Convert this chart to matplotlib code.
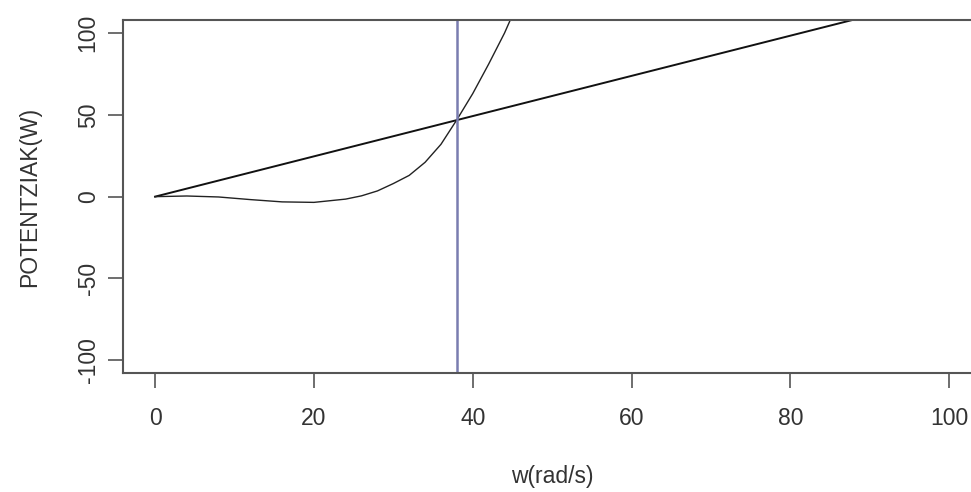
import matplotlib
matplotlib.use("Agg")
import matplotlib.pyplot as plt

plt.rcParams['font.family'] = ['Liberation Sans', 'DejaVu Sans']

# lerro zuzena (karga-potentzia)
line_w = [0, 38, 100]
line_p = [0, 46.8, 123]

# kurba (turbinaren potentzia)
curve_w = [0, 4, 8, 12, 16, 20, 24, 26, 28, 30, 32, 34, 36, 38, 40, 42, 44, 46]
curve_p = [0, 0.4, -0.2, -1.8, -3.2, -3.5, -1.5, 0.5, 3.5, 8, 13, 21, 32, 47, 63, 81, 100, 122]

# ebaki-puntua
w_cross = 38

x_ticks = [0, 20, 40, 60, 80, 100]
y_ticks = [-100, -50, 0, 50, 100]

W, H = 971, 492
fig = plt.figure(figsize=(W / 100, H / 100), dpi=100)
ax = fig.add_axes([123.3 / W, (H - 373.3) / H, (981 - 123.3) / W, (373.3 - 20) / H])

ax.plot(line_w, line_p, color='#111111', lw=1.4)
ax.plot(curve_w, curve_p, color='#222222', lw=1.0)
ax.axvline(w_cross, color='#7a7db0', lw=1.8)

ax.set_xlim(-4, 104)
ax.set_ylim(-108, 108)
ax.set_xticks(x_ticks)
ax.set_yticks(y_ticks)
ax.set_yticklabels([str(v) for v in y_ticks], rotation=90, va='center')

for s in ax.spines.values():
    s.set_color('#555555')
    s.set_linewidth(1.5)
ax.tick_params(axis='both', length=11, width=1.2, color='#555555',
               labelsize=16.5, labelcolor='#333333')
ax.tick_params(axis='x', pad=13)
ax.tick_params(axis='y', pad=6)

ax.set_xlabel('w(rad/s)', fontsize=16.5, color='#333333', va='center')
ax.xaxis.set_label_coords(0.5, (373.3 - 476) / 353.3)
ax.set_ylabel('POTENTZIAK(W)', fontsize=16.5, color='#333333', va='center')
ax.yaxis.set_label_coords((30 - 123.3) / 857.7, 0.5)

fig.savefig('out.png', dpi=100)
